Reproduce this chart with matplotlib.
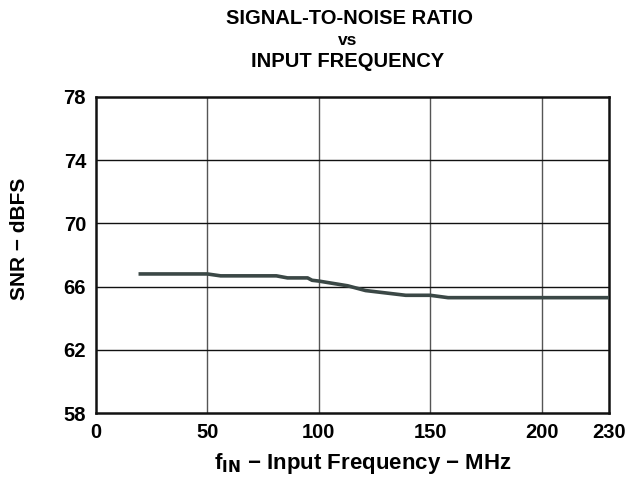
import matplotlib
matplotlib.use("Agg")
import matplotlib.pyplot as plt

freq_mhz = [20, 50, 56, 81, 86, 95, 97, 100, 113, 121, 139, 150, 158, 230]
snr_dbfs = [66.8, 66.8, 66.68, 66.68, 66.55, 66.55, 66.4, 66.35, 66.05, 65.75, 65.45, 65.45, 65.3, 65.3]
x_ticks = [0, 50, 100, 150, 200, 230]
y_ticks = [58, 62, 66, 70, 74, 78]

plt.rcParams['font.family'] = ['Liberation Sans', 'DejaVu Sans']
fig = plt.figure(figsize=(6.34, 4.82), dpi=100)
ax = fig.add_axes([0.151, 0.143, 0.809, 0.656])

ax.plot(freq_mhz, snr_dbfs, color='#3b4846', lw=2.6, solid_joinstyle='round', zorder=3)

ax.set_xlim(0, 230)
ax.set_ylim(58, 78)
ax.set_xticks(x_ticks)
ax.set_yticks(y_ticks)
ax.set_xticklabels([str(v) for v in x_ticks], fontweight='bold', fontsize=14.5)
ax.set_yticklabels([str(v) for v in y_ticks], fontweight='bold', fontsize=14.5)
ax.tick_params(length=0, pad=7)
for v in x_ticks[1:-1]:
    ax.axvline(v, color='#555555', lw=1.0, zorder=1)
for v in y_ticks[1:-1]:
    ax.axhline(v, color='#111111', lw=1.0, zorder=1)
for s in ax.spines.values():
    s.set_linewidth(1.8)
    s.set_color('#111111')

ax.set_xlabel(r'f$_{\mathbf{IN}}$ − Input Frequency − MHz', fontweight='bold', fontsize=16, labelpad=5)
ax.xaxis.set_label_coords(0.52, -0.12)
ax.set_ylabel('SNR − dBFS', fontweight='bold', fontsize=15)
ax.yaxis.set_label_coords(-0.13, 0.55)

fig.text(0.551, 0.962, 'SIGNAL-TO-NOISE RATIO', ha='center', va='center', fontweight='bold', fontsize=14.5)
fig.text(0.548, 0.915, 'vs', ha='center', va='center', fontweight='bold', fontsize=12.5)
fig.text(0.548, 0.872, 'INPUT FREQUENCY', ha='center', va='center', fontweight='bold', fontsize=14.5)

fig.savefig('out.png', dpi=100)
